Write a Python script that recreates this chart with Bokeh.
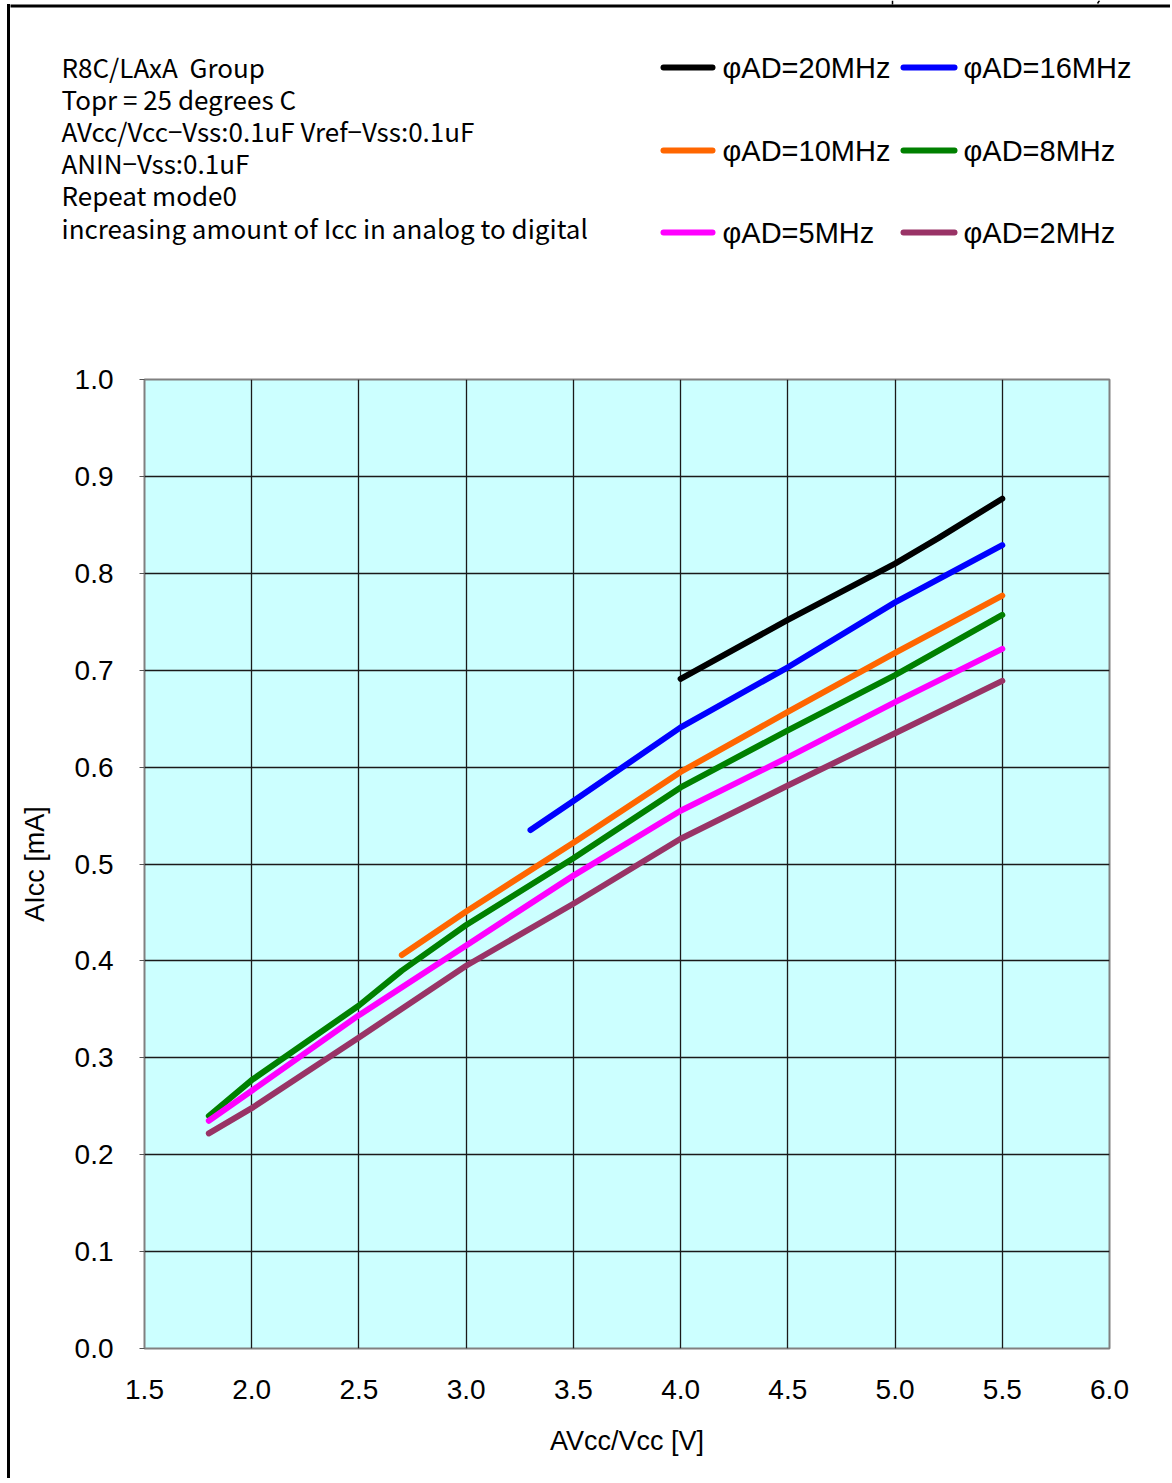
from bokeh.plotting import figure
from bokeh.models import Range1d, FixedTicker, Div
from bokeh.layouts import column, row
from bokeh.core.properties import value
from bokeh.embed import file_html
from bokeh.resources import INLINE

# ---------------- data ----------------
x_ticks = [1.5, 2.0, 2.5, 3.0, 3.5, 4.0, 4.5, 5.0, 5.5, 6.0]
x_tick_labels = ["1.5", "2.0", "2.5", "3.0", "3.5", "4.0", "4.5", "5.0", "5.5", "6.0"]
y_ticks = [0.0, 0.1, 0.2, 0.3, 0.4, 0.5, 0.6, 0.7, 0.8, 0.9, 1.0]
y_tick_labels = ["0.0", "0.1", "0.2", "0.3", "0.4", "0.5", "0.6", "0.7", "0.8", "0.9", "1.0"]

v_20mhz = [4.0, 4.5, 5.0, 5.2, 5.5]
i_20mhz = [0.691, 0.752, 0.810, 0.836, 0.877]

v_16mhz = [3.3, 3.5, 4.0, 4.5, 5.0, 5.5]
i_16mhz = [0.535, 0.565, 0.641, 0.703, 0.770, 0.829]

v_10mhz = [2.7, 3.0, 3.5, 4.0, 4.5, 5.0, 5.5]
i_10mhz = [0.406, 0.451, 0.522, 0.595, 0.657, 0.718, 0.777]

v_8mhz = [1.8, 2.0, 2.5, 2.7, 3.0, 3.5, 4.0, 4.5, 5.0, 5.5]
i_8mhz = [0.240, 0.277, 0.354, 0.390, 0.437, 0.506, 0.579, 0.638, 0.695, 0.757]

v_5mhz = [1.8, 2.0, 2.5, 3.0, 3.5, 4.0, 4.5, 5.0, 5.5]
i_5mhz = [0.235, 0.266, 0.344, 0.416, 0.488, 0.555, 0.610, 0.667, 0.722]

v_2mhz = [1.8, 2.0, 2.5, 3.0, 3.5, 4.0, 4.5, 5.0, 5.5]
i_2mhz = [0.222, 0.248, 0.321, 0.395, 0.459, 0.526, 0.581, 0.635, 0.689]

series_names = ["φAD=20MHz", "φAD=16MHz", "φAD=10MHz", "φAD=8MHz", "φAD=5MHz", "φAD=2MHz"]
series_colors = ["#000000", "#0000FF", "#FF6600", "#008000", "#FF00FF", "#993366"]

header_lines = [
    "R8C/LAxA\u00a0 Group",
    "Topr = 25 degrees C",
    "AVcc/Vcc\u2212Vss:0.1uF Vref\u2212Vss:0.1uF",
    "ANIN\u2212Vss:0.1uF",
    "Repeat mode0",
    "increasing amount of Icc in analog to digital",
]

LW = 6
OX = 10  # page x where the content column starts (right of the left page border)

# ---------------- header (notes + legend) ----------------
HW, HH = 1160, 330
hdr = figure(
    output_backend="svg", toolbar_location=None,
    frame_width=HW, frame_height=HH,
    min_border_left=0, min_border_right=0, min_border_top=0, min_border_bottom=0,
    x_range=Range1d(0, HW), y_range=Range1d(HH, 0),
    x_axis_type=None, y_axis_type=None,
    background_fill_color="white", border_fill_color="white",
)
hdr.outline_line_color = None
hdr.grid.visible = False

# page border (top) and the small marks of the neighbouring content above it
hdr.segment(x0=[-3], y0=[5.5], x1=[HW], y1=[5.5], line_color="black", line_width=3)
hdr.segment(x0=[892 - OX, 1099 - OX], y0=[0, 0], x1=[892 - OX, 1097 - OX], y1=[4, 3],
            line_color="black", line_width=1.5)

hdr.text(x=[61 - OX] * len(header_lines), y=[65.5 + 32.2 * k for k in range(len(header_lines))],
         text=header_lines, text_font=value("Noto Sans CJK JP"), text_font_size="26px",
         text_baseline="middle", text_align="left", text_color="black")

# legend: 2 columns x 3 rows, sample line + label
col_line = [(663 - OX, 712 - OX), (903 - OX, 954 - OX)]
col_text = [722 - OX, 963 - OX]
row_y = [67, 150, 232]
lx0, lx1, ly, tx, ty = [], [], [], [], []
for k in range(len(series_names)):
    rr, cc = divmod(k, 2)
    lx0.append(col_line[cc][0]); lx1.append(col_line[cc][1]); ly.append(row_y[rr])
    tx.append(col_text[cc]); ty.append(row_y[rr])
hdr.segment(x0=lx0, y0=ly, x1=lx1, y1=ly, line_color=series_colors, line_width=LW, line_cap="round")
hdr.text(x=tx, y=ty, text=series_names, text_font=value("Liberation Sans"), text_font_size="29px",
         text_baseline="middle", text_align="left", text_color="black")

# ---------------- main chart ----------------
FW, FH = 965, 969
BL = 144 - OX
BR = HW - BL - FW
BT = 379 - HH
BB = 130

p = figure(
    output_backend="svg", toolbar_location=None,
    frame_width=FW, frame_height=FH,
    min_border_left=BL, min_border_right=BR, min_border_top=BT, min_border_bottom=BB,
    x_range=Range1d(1.5, 6.0), y_range=Range1d(0.0, 1.0),
    background_fill_color="#CCFFFF", border_fill_color="white",
)
p.outline_line_color = "#808080"
p.outline_line_width = 2

for ax, ticks, labels in ((p.xaxis[0], x_ticks, x_tick_labels), (p.yaxis[0], y_ticks, y_tick_labels)):
    ax.ticker = FixedTicker(ticks=ticks)
    ax.major_label_overrides = {t: l for t, l in zip(ticks, labels)}
    ax.major_label_text_font = "Liberation Sans"
    ax.major_label_text_font_size = "28px"
    ax.major_label_text_color = "black"
    ax.axis_line_color = None
    ax.minor_tick_line_color = None
    ax.axis_label_text_font = "Liberation Sans"
    ax.axis_label_text_font_size = "27px"
    ax.axis_label_text_font_style = "normal"
    ax.axis_label_text_color = "black"

p.xaxis.axis_label = "AVcc/Vcc [V]"
p.yaxis.axis_label = "AIcc [mA]"
p.xaxis.major_tick_line_color = None
p.xaxis.major_tick_out = 0
p.xaxis.major_tick_in = 0
p.xaxis.major_label_standoff = 31
p.xaxis.axis_label_standoff = 24
p.yaxis.major_tick_line_color = "#555555"
p.yaxis.major_tick_out = 5
p.yaxis.major_tick_in = 0
p.yaxis.major_label_standoff = 26
p.yaxis.axis_label_standoff = 22

p.xgrid.ticker = FixedTicker(ticks=x_ticks)
p.ygrid.ticker = FixedTicker(ticks=y_ticks)
for g in (p.xgrid[0], p.ygrid[0]):
    g.grid_line_color = "#1a1a1a"
    g.grid_line_width = 1.3

series = [(v_20mhz, i_20mhz), (v_16mhz, i_16mhz), (v_10mhz, i_10mhz),
          (v_8mhz, i_8mhz), (v_5mhz, i_5mhz), (v_2mhz, i_2mhz)]
for (xs, ys), c in zip(series, series_colors):
    p.line(xs, ys, line_color=c, line_width=LW, line_cap="round", line_join="round")

# ---------------- left page border ----------------
total_h = HH + BT + FH + BB
left_border = Div(text="", width=3, height=total_h - 4, margin=(4, 0, 0, 7),
                  styles={"background-color": "black"})

# wrap the chart in its own row so the header frame is not aligned to the chart frame
layout = row(left_border, column(hdr, row(p, spacing=0), spacing=0), spacing=0)
open("out.html", "w").write(file_html(layout, INLINE))
